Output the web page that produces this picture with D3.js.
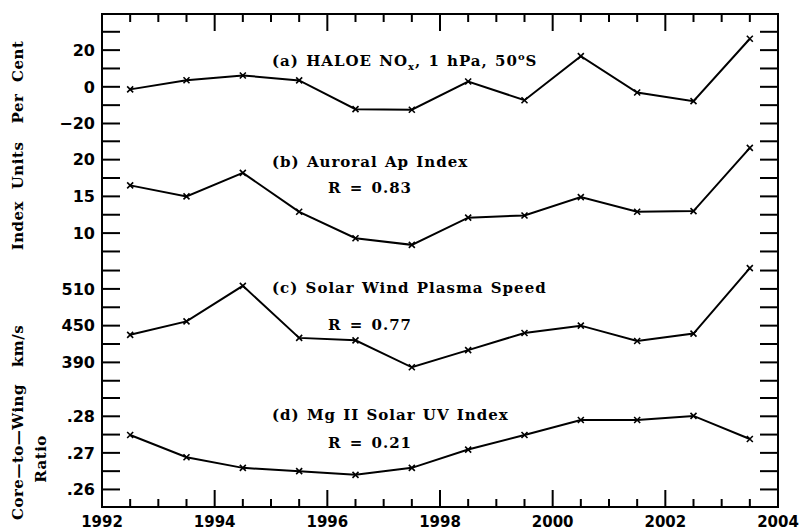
<!DOCTYPE html>
<html>
<head>
<meta charset="utf-8">
<script src="https://cdn.jsdelivr.net/npm/d3@7"></script>
<style>
  body { margin: 0; background: #fff; }
  text { fill: #000; }
</style>
</head>
<body>
<svg id="chart"></svg>
<script>
// Data (annual means, plotted at mid-year)
const years = [1992.5, 1993.5, 1994.5, 1995.5, 1996.5, 1997.5, 1998.5, 1999.5, 2000.5, 2001.5, 2002.5, 2003.5];
const noxPct = [-1.4, 3.6, 6.2, 3.5, -12.2, -12.5, 2.9, -7.3, 16.7, -3.1, -7.8, 26.2];
const apIndex = [16.5, 15.0, 18.2, 12.9, 9.3, 8.4, 12.1, 12.4, 14.9, 12.9, 13.0, 21.6];
const windSpeed = [435, 457, 515, 430, 426, 382, 410, 438, 450, 425, 437, 544];
const mgII = [0.2749, 0.2688, 0.2659, 0.2650, 0.2640, 0.2659, 0.2709, 0.2749, 0.2790, 0.2790, 0.2801, 0.2738];

const yearTicksMajor = [1992, 1994, 1996, 1998, 2000, 2002, 2004];

const W = 800, H = 531;
const plotL = 102, plotR = 778, plotT = 14, plotB = 507;
const panelH = (plotB - plotT) / 4;

const svg = d3.select('#chart').attr('width', W).attr('height', H);

const x = d3.scaleLinear().domain([1992, 2004]).range([plotL, plotR]);

// Panel settings: domain, minor tick step, labelled ticks, titles
const panels = [
    {values: noxPct, domain: [-27.5, 39.7], step: 10, labels: [20, 0, -20],
     fmt: d => d < 0 ? '\u2212' + Math.abs(d) : d, title: 'a', r: null},
    {values: apIndex, domain: [6.27, 23.05], step: 2.5, labels: [20, 15, 10],
     fmt: d => d, title: '(b) Auroral Ap Index', r: 'R = 0.83'},
    {values: windSpeed, domain: [355.1, 556.4], step: 30, labels: [510, 450, 390],
     fmt: d => d, title: '(c) Solar Wind Plasma Speed', r: 'R = 0.77'},
    {values: mgII, domain: [0.2552, 0.2889], step: 0.005, labels: [0.28, 0.27, 0.26],
     fmt: d => d3.format('.2f')(d).replace(/^0/, ''), title: '(d) Mg II Solar UV Index', r: 'R = 0.21'}
];

const tickFont = '"DejaVu Sans", sans-serif';
const textFont = '"DejaVu Serif", serif';

panels.forEach((p, i) => {
    const y0 = plotT + i * panelH;
    const y = d3.scaleLinear().domain(p.domain).range([y0 + panelH, y0]);
    const g = svg.append('g');

    // ticks (left and right, pointing inward)
    const first = Math.ceil(p.domain[0] / p.step - 1e-6);
    const last = Math.floor(p.domain[1] / p.step + 1e-6);
    const ticks = d3.range(first, last + 1).map(k => k * p.step);
    g.selectAll('.tl').data(ticks).enter().append('line')
        .attr('x1', plotL).attr('x2', plotL + 18)
        .attr('y1', d => y(d)).attr('y2', d => y(d))
        .attr('stroke', '#000').attr('stroke-width', 2);
    g.selectAll('.tr').data(ticks).enter().append('line')
        .attr('x1', plotR).attr('x2', plotR - 18)
        .attr('y1', d => y(d)).attr('y2', d => y(d))
        .attr('stroke', '#000').attr('stroke-width', 2);

    // tick labels
    g.selectAll('.lab').data(p.labels).enter().append('text')
        .attr('x', plotL - 7).attr('y', d => y(d))
        .attr('dy', '0.36em')
        .attr('text-anchor', 'end')
        .attr('font-family', tickFont).attr('font-size', 16).attr('font-weight', 'bold')
        .text(p.fmt);

    // series line
    const line = d3.line().x((d, j) => x(years[j])).y(d => y(d));
    g.append('path').datum(p.values)
        .attr('d', line)
        .attr('fill', 'none').attr('stroke', '#000').attr('stroke-width', 2);

    // x markers
    const s = 3;
    g.selectAll('.m').data(p.values).enter().append('path')
        .attr('d', (d, j) => {
            const cx = x(years[j]), cy = y(d);
            return `M${cx - s},${cy - s}L${cx + s},${cy + s}M${cx - s},${cy + s}L${cx + s},${cy - s}`;
        })
        .attr('stroke', '#000').attr('stroke-width', 1.6);

    // titles
    const titleY = [61, 162, 288, 415][i];
    const t = g.append('text')
        .attr('x', 272).attr('y', titleY).attr('dy', '0.35em')
        .attr('font-family', textFont).attr('font-size', 15).attr('font-weight', 'bold')
        .attr('letter-spacing', 1).attr('word-spacing', 1);
    if (p.title === 'a') {
        t.append('tspan').text('(a) HALOE NO');
        t.append('tspan').attr('font-size', 10).attr('dy', 4).text('x');
        t.append('tspan').attr('dy', -4).text(', 1 hPa, 50');
        t.append('tspan').attr('font-size', 10).attr('dy', -6).text('o');
        t.append('tspan').attr('dy', 6).text('S');
    } else {
        t.text(p.title);
    }
    if (p.r) {
        g.append('text')
            .attr('x', 328).attr('y', [0, 188, 325, 443][i]).attr('dy', '0.35em')
            .attr('font-family', textFont).attr('font-size', 15).attr('font-weight', 'bold')
            .attr('letter-spacing', 1).attr('word-spacing', 2)
            .text(p.r);
    }
});

// x ticks top and bottom: every half year, long at even years
const halfYears = d3.range(1992.5, 2004, 0.5);
[plotT, plotB].forEach(yy => {
    const dir = yy === plotT ? 1 : -1;
    svg.append('g').selectAll('line').data(halfYears).enter().append('line')
        .attr('x1', d => x(d)).attr('x2', d => x(d))
        .attr('y1', yy)
        .attr('y2', d => yy + dir * (yearTicksMajor.includes(d) ? 17 : 8))
        .attr('stroke', '#000').attr('stroke-width', 2);
});

svg.append('g').selectAll('text').data(yearTicksMajor).enter().append('text')
    .attr('x', d => x(d)).attr('y', 526.5)
    .attr('text-anchor', 'middle')
    .attr('font-family', tickFont).attr('font-size', 15).attr('font-weight', 'bold')
    .text(d => d);

// frame
svg.append('rect')
    .attr('x', plotL).attr('y', plotT)
    .attr('width', plotR - plotL).attr('height', plotB - plotT)
    .attr('fill', 'none').attr('stroke', '#000').attr('stroke-width', 2);

// y axis titles
const yTitles = [
    {text: 'Per Cent', x: 18, y: 82},
    {text: 'Index Units', x: 18, y: 196},
    {text: 'km/s', x: 18, y: 346},
    {text: 'Core\u2014to\u2014Wing', x: 18, y: 452},
    {text: 'Ratio', x: 41, y: 459}
];
svg.append('g').selectAll('text').data(yTitles).enter().append('text')
    .attr('transform', d => `translate(${d.x},${d.y}) rotate(-90)`)
    .attr('text-anchor', 'middle').attr('dy', '0.35em')
    .attr('font-family', textFont).attr('font-size', 15).attr('font-weight', 'bold')
    .attr('letter-spacing', 0.5).attr('word-spacing', 6)
    .text(d => d.text);
</script>
</body>
</html>
